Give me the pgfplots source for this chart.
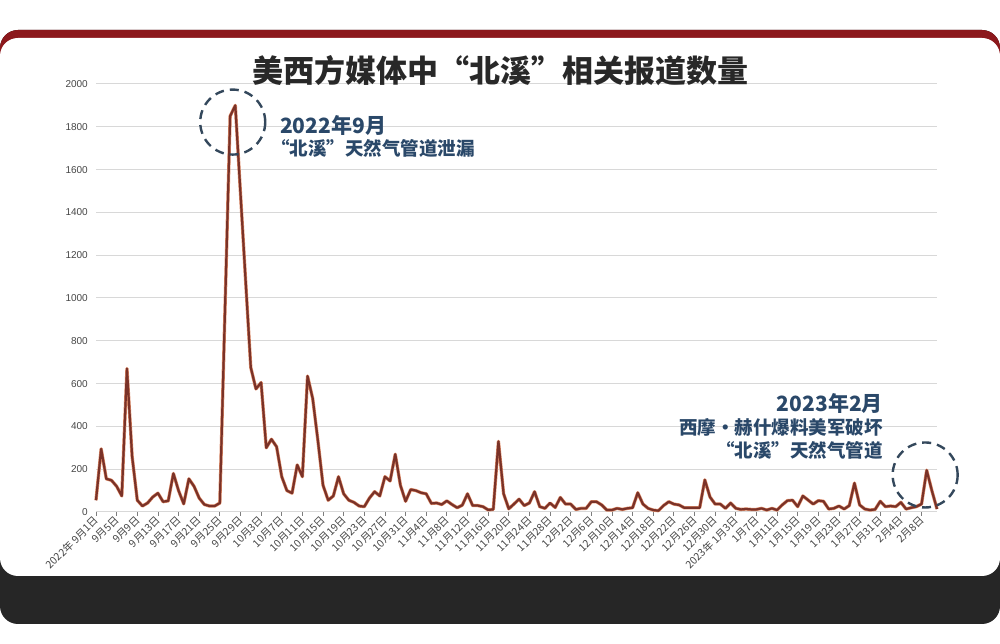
\documentclass[border=0pt]{standalone}
\usepackage{pgfplots}
\usepackage{pgfplotstable}
\pgfplotsset{compat=1.18}
\usepackage{fontspec}
\setmainfont{Liberation Sans}
\newfontfamily\cjk{Noto Sans CJK SC}

\definecolor{linec}{RGB}{122,50,40}
\definecolor{haloc}{RGB}{222,140,105}
\definecolor{gridc}{RGB}{216,216,216}
\definecolor{labc}{RGB}{70,70,70}
\definecolor{annot}{RGB}{42,72,105}
\definecolor{circc}{RGB}{52,72,92}
\definecolor{titlec}{RGB}{40,40,40}
\definecolor{redbar}{RGB}{140,24,28}
\definecolor{darkband}{RGB}{38,38,38}

% day index (0 = 2022-09-01), number of reports
\pgfplotstableread{
day value
0 55
1 295
2 155
3 148
4 120
5 75
6 670
7 260
8 55
9 28
10 42
11 70
12 88
13 48
14 52
15 180
16 100
17 38
18 155
19 120
20 65
21 35
22 28
23 28
24 42
25 945
26 1850
27 1900
28 1490
29 1080
30 675
31 575
32 605
33 300
34 340
35 305
36 165
37 100
38 88
39 220
40 165
41 635
42 530
43 335
44 125
45 55
46 75
47 165
48 85
49 55
50 45
51 28
52 25
53 65
54 95
55 75
56 165
57 145
58 270
59 125
60 50
61 105
62 100
63 90
64 85
65 40
66 42
67 35
68 52
69 35
70 20
71 32
72 85
73 30
74 30
75 25
76 10
77 12
78 330
79 85
80 15
81 37
82 60
83 30
84 42
85 95
86 25
87 17
88 42
89 21
90 68
91 37
92 37
93 12
94 17
95 17
96 48
97 48
98 33
99 9
100 9
101 17
102 12
103 17
104 20
105 90
106 37
107 17
108 9
109 6
110 30
111 48
112 37
113 33
114 20
115 20
116 20
117 20
118 150
119 70
120 37
121 37
122 17
123 42
124 17
125 12
126 14
127 12
128 12
129 17
130 9
131 17
132 9
133 33
134 53
135 55
136 25
137 75
138 56
139 37
140 53
141 50
142 14
143 17
144 28
145 14
146 30
147 135
148 33
149 14
150 9
151 12
152 50
153 25
154 28
155 25
156 45
157 14
158 20
159 25
160 37
161 195
162 100
163 14
}\reports

\begin{document}
\begin{tikzpicture}
% card frame
\fill[white] (0pt,0pt) rectangle (1000pt,644pt);
\fill[darkband, rounded corners=18pt] (0pt,20pt) rectangle (1000pt,614pt);
\fill[redbar, rounded corners=18pt] (0pt,300pt) rectangle (1000pt,614pt);
\fill[white, rounded corners=18pt] (0pt,68pt) rectangle (1000pt,606pt);

\begin{axis}[
  at={(96pt,132pt)}, anchor=south west,
  scale only axis, width=841pt, height=428pt,
  xmin=0, xmax=163, ymin=0, ymax=2000,
  axis x line*=bottom, axis y line*=left,
  y axis line style={draw=none},
  x axis line style={draw=gridc, line width=1pt},
  ytick={0,200,...,2000},
  ymajorgrids, grid style={draw=gridc, line width=1pt},
  ytick style={draw=none},
  xtick={0,4,...,160},
  xtick style={draw=labc!70, line width=0.8pt},
  tick align=outside, major tick length=4pt,
  xticklabels={2022年 9月1日,9月5日,9月9日,9月13日,9月17日,9月21日,9月25日,9月29日,10月3日,10月7日,10月11日,10月15日,10月19日,10月23日,10月27日,10月31日,11月4日,11月8日,11月12日,11月16日,11月20日,11月24日,11月28日,12月2日,12月6日,12月10日,12月14日,12月18日,12月22日,12月26日,12月30日,2023年 1月3日,1月7日,1月11日,1月15日,1月19日,1月23日,1月27日,1月31日,2月4日,2月8日},
  xticklabel style={font=\cjk\fontsize{10.5}{12}\selectfont, text=labc, rotate=45, anchor=east, inner sep=1pt, yshift=-2pt},
  yticklabel style={font=\fontsize{10}{12}\selectfont, text=labc, inner sep=1pt, xshift=-3pt},
  /pgf/number format/assume math mode=true,
  /pgf/number format/1000 sep={},
  clip=false,
]
\addplot[no marks, line width=3.3pt, color=haloc, line join=round] table[x=day, y=value] {\reports};
\addplot[no marks, line width=2.2pt, color=linec, line join=round] table[x=day, y=value] {\reports};
\draw[circc, line width=2.4pt, dash pattern=on 9pt off 6pt] (axis cs:26.5,1822) circle[radius=32.5pt];
\draw[circc, line width=2.4pt, dash pattern=on 9pt off 6pt] (axis cs:160.7,173) circle[radius=32.5pt];
\end{axis}

% title and annotations
\node[anchor=base, inner sep=0, text=titlec, font=\cjk\bfseries\fontsize{31}{34}\selectfont] at (500pt,561pt) {美西方媒体中“北溪”相关报道数量};
\node[anchor=base west, inner sep=0, text=annot, font=\cjk\bfseries\fontsize{21}{24}\selectfont] at (280pt,510pt) {2022年9月};
\node[anchor=base west, inner sep=0, text=annot, font=\cjk\bfseries\fontsize{18.5}{22}\selectfont] at (271pt,488pt) {“北溪”天然气管道泄漏};
\node[anchor=base east, inner sep=0, text=annot, font=\cjk\bfseries\fontsize{21}{24}\selectfont] at (883pt,232.5pt) {2023年2月};
\node[anchor=base east, inner sep=0, text=annot, font=\cjk\bfseries\fontsize{18.5}{22}\selectfont] at (883pt,209pt) {西摩·赫什爆料美军破坏};
\node[anchor=base east, inner sep=0, text=annot, font=\cjk\bfseries\fontsize{18.5}{22}\selectfont] at (883pt,186pt) {“北溪”天然气管道};
\end{tikzpicture}
\end{document}
